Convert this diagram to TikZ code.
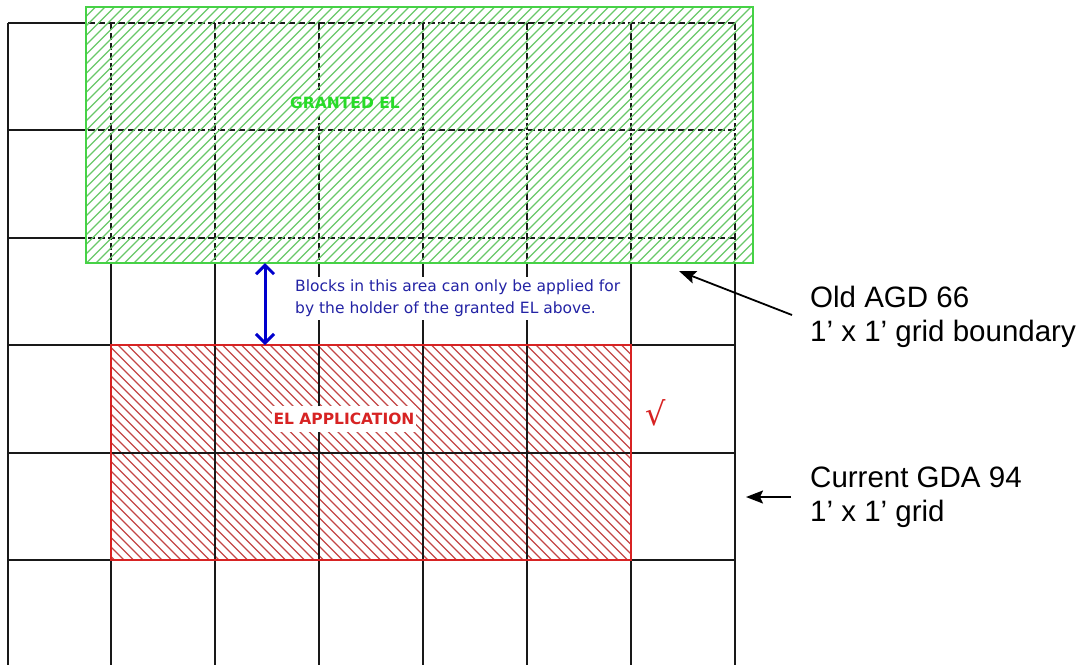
\documentclass[tikz,border=0pt]{standalone}
\usepackage{fontspec}
\setmainfont{Liberation Sans}
\newfontfamily\tahoma{DejaVu Sans}
\usetikzlibrary{arrows.meta}
\definecolor{edgegreen}{RGB}{70,210,70}
\definecolor{hatchgreen}{RGB}{105,200,105}
\definecolor{labelgreen}{RGB}{40,220,40}
\definecolor{elred}{RGB}{215,35,35}
\definecolor{hatchred}{RGB}{195,70,70}
\definecolor{noteblue}{RGB}{35,35,165}
\definecolor{arrowblue}{RGB}{0,0,205}
\tikzset{
  grid line/.style={black!90,line width=2pt},
  old grid/.style={grid line,dash pattern=on 7pt off 3pt},
  green hatch/.style={hatchgreen,line width=1.2pt},
  red hatch/.style={hatchred,line width=1.2pt},
  green edge/.style={edgegreen,line width=1.6pt},
  red edge/.style={elred,line width=1.6pt},
  block label/.style={font=\tahoma\bfseries\fontsize{15.5}{18}\selectfont,inner xsep=2pt,inner ysep=7pt},
  note text/.style={font=\tahoma\fontsize{15.5}{22}\selectfont,text=noteblue,align=left,fill=white,inner sep=3pt},
  side label/.style={font=\fontsize{29.5}{34}\selectfont,align=left,inner sep=0pt},
  side arrow/.style={-{Stealth[length=17pt,width=13pt,inset=3pt]},line width=1.8pt},
  gap arrow/.style={{Straight Barb[length=9pt,width=18pt]}-{Straight Barb[length=9pt,width=18pt]},arrowblue,line width=3pt},
}

\begin{document}
\begin{tikzpicture}[x=1pt,y=-1pt]
  \useasboundingbox (0,0) rectangle (1089,665);
  % EL application hatching, under the grid
  \begin{scope}
    \clip (111,345) rectangle (631,560);
    \foreach \a in {-110,-100.5,...,640}
      \draw[red hatch] (\a,345) -- ++(215,215);
  \end{scope}
  % current GDA 94 grid
  \foreach \x in {8,111,215,319,423,527,631,735}
    \draw[grid line] (\x,23) -- (\x,665);
  \foreach \y in {23,130,238,345,453,560}
    \draw[grid line] (8,\y) -- (735,\y);
  \draw[red edge] (111,345) rectangle (631,560);
  \node[block label,fill=white,text=elred] (appl) at (344,419) {EL APPLICATION};
  \node[text=elred,font=\tahoma\fontsize{32}{34}\selectfont] (tick) at (656,413) {√};
  % old AGD 66 boundary
  \fill[white] (86,7) rectangle (753,263);
  \begin{scope}
    \clip (86,7) rectangle (753,263);
    \foreach \x in {8,111,215,319,423,527,631,735}
      \draw[old grid] (\x,23) -- (\x,263);
    \foreach \y in {23,130,238}
      \draw[old grid] (8,\y) -- (735,\y);
    \node[block label,fill=white,text=white] (granted) at (345,103) {GRANTED EL};
    \foreach \a in {-170,-160.5,...,760}
      \draw[green hatch] (\a,263) -- ++(256,-256);
  \end{scope}
  \node[block label,text=labelgreen] at (granted) {GRANTED EL};
  \draw[green edge] (86,7) rectangle (753,263);
  % gap between the two
  \coordinate (gaptop) at (265,263);
  \coordinate (gapbot) at (265,345);
  \draw[gap arrow] (gaptop) -- (gapbot);
  \node[note text,anchor=north west] (note) at (292,277) {Blocks in this area can only be applied for\\by the holder of the granted EL above.};
  % side labels
  \node[side label,anchor=north west] (oldagd) at (810,286) {Old AGD 66\\1’ x 1’ grid boundary};
  \coordinate (oldtip) at (679,271);
  \coordinate (oldtail) at (792,315);
  \draw[side arrow] (oldtail) -- (oldtip);
  \node[side label,anchor=north west] (gda) at (810,467) {Current GDA 94\\1’ x 1’ grid};
  \coordinate (gdatip) at (746,497);
  \coordinate (gdatail) at (791,497);
  \draw[side arrow] (gdatail) -- (gdatip);
\end{tikzpicture}
\end{document}
